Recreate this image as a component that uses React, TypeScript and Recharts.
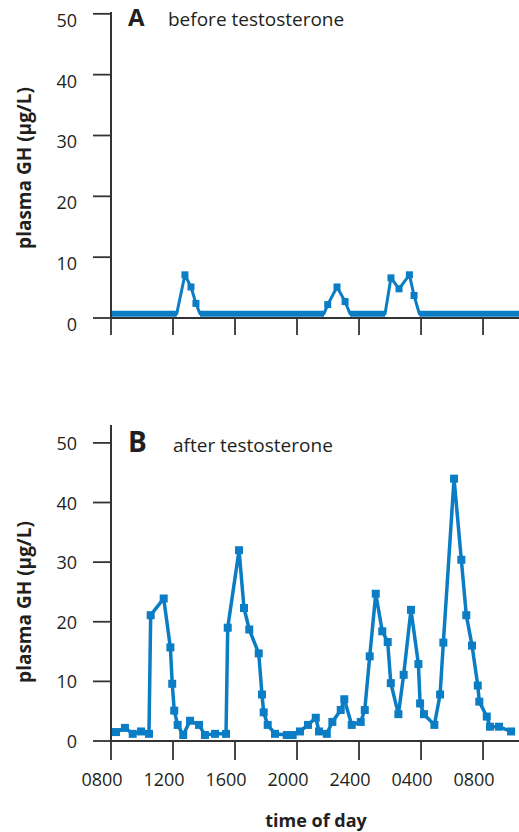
import { LineChart, Line, XAxis, YAxis, Label } from "recharts";

const HOURS_A = [8, 12.24, 12.77, 13.16, 13.48, 13.74, 21.74, 21.98, 22.58, 23.1, 23.42, 25.68, 26.06, 26.58, 27.25, 27.55, 27.89, 34.32];
const GH_A = [0.7, 0.7, 7.1, 5.1, 2.4, 0.7, 0.7, 2.2, 5.1, 2.7, 0.7, 0.7, 6.6, 4.8, 7.1, 3.7, 0.7, 0.7];
// baseline stretches (drawn as a thicker band), null inside the pulses
const BASE_A = [0.7, 0.7, null, null, null, 0.7, 0.7, null, null, null, 0.7, 0.7, null, null, null, null, 0.7, 0.7];

const HOURS_B = [8.32, 8.9, 9.4, 9.94, 10.45, 10.56, 11.4, 11.83, 11.95, 12.08, 12.3, 12.66, 13.1, 13.68, 14.06, 14.71, 15.42, 15.53, 16.26, 16.58, 16.92, 17.53, 17.74, 17.85, 18.11, 18.58, 19.34, 19.72, 20.19, 20.71, 21.21, 21.42, 21.92, 22.28, 22.82, 23.05, 23.53, 24.11, 24.37, 24.69, 25.08, 25.5, 25.85, 26.05, 26.54, 26.88, 27.35, 27.83, 27.94, 28.19, 28.86, 29.23, 29.44, 30.13, 30.6, 30.92, 31.29, 31.66, 31.76, 32.24, 32.45, 33.03, 33.81];
const GH_B = [1.5, 2.2, 1.2, 1.6, 1.2, 21.1, 23.9, 15.7, 9.6, 5.1, 2.7, 1.0, 3.4, 2.7, 1.0, 1.2, 1.2, 19.0, 32.0, 22.3, 18.7, 14.7, 7.8, 4.8, 2.7, 1.2, 1.0, 1.0, 1.6, 2.7, 3.9, 1.6, 1.2, 3.2, 5.2, 7.0, 2.7, 3.2, 5.2, 14.2, 24.7, 18.4, 16.6, 9.7, 4.5, 11.1, 22.0, 12.9, 6.3, 4.5, 2.7, 7.8, 16.5, 44.0, 30.4, 21.1, 16.0, 9.3, 6.6, 4.1, 2.4, 2.4, 1.6];

const Y_TICKS = [0, 10, 20, 30, 40, 50];
const X_TICKS = [8, 12, 16, 20, 24, 28, 32];
const X_LABELS = ["0800", "1200", "1600", "2000", "2400", "0400", "0800"];

const dataA = HOURS_A.map((t, i) => ({ t, gh: GH_A[i], base: BASE_A[i] }));
const dataB = HOURS_B.map((t, i) => ({ t, gh: GH_B[i] }));

const BLUE = "#0a7dc4";
const AXIS = "#333333";
const TEXT = "#231f20";
const FONT = "'Open Sans', sans-serif";
const X_DOMAIN = [8, 34.32];

const square = (size: number, onlyPulse: boolean) => (props: any) => {
  const { cx, cy, index, payload } = props;
  if (onlyPulse && payload.base != null) return <g key={"d" + index} />;
  return <rect key={"d" + index} x={cx - size / 2} y={cy - size / 2} width={size} height={size} fill={BLUE} />;
};

const yTick = (dy: number) => (props: any) => {
  const { x, y, payload } = props;
  return (
    <text x={x} y={y + dy} textAnchor="end" dominantBaseline="central" fontFamily={FONT} fontSize={18} fill={TEXT}>
      {payload.value}
    </text>
  );
};

const xTick = (props: any) => {
  const { x, y, payload } = props;
  const i = X_TICKS.indexOf(payload.value);
  return (
    <text x={x - 9} y={y + 26} textAnchor="middle" fontFamily={FONT} fontSize={18} fill={TEXT}>
      {X_LABELS[i]}
    </text>
  );
};

const yLabel = (cy: number) => () => (
  <text x={24} y={cy} transform={`rotate(-90, 24, ${cy})`} textAnchor="middle" dominantBaseline="central" fontFamily={FONT} fontWeight={700} fontSize={19} fill={TEXT}>
    plasma GH (μg/L)
  </text>
);

const Title = ({ top, baseline, letter, letterSize, text, textX }: any) => (
  <svg width={519} height={50} style={{ position: "absolute", left: 0, top, pointerEvents: "none" }}>
    <text x={128} y={baseline} fontFamily={FONT} fontWeight={700} fontSize={letterSize} fill={TEXT}>{letter}</text>
    <text x={textX} y={baseline} fontFamily={FONT} fontSize={19} fill={TEXT}>{text}</text>
  </svg>
);

export default function App() {
  return (
    <div style={{ position: "absolute", left: 0, top: 0, width: 519, height: 832, background: "#fff" }}>
      <div style={{ position: "absolute", left: 0, top: 0 }}>
        <LineChart width={519} height={345} data={dataA} margin={{ top: 12, right: 0, bottom: 0, left: 0 }}>
          <XAxis dataKey="t" type="number" domain={X_DOMAIN} ticks={X_TICKS} height={27} tickSize={17} tickMargin={0}
            tick={() => <g />} axisLine={{ stroke: AXIS, strokeWidth: 2 }} tickLine={{ stroke: AXIS, strokeWidth: 1.8 }} />
          <YAxis domain={[0, 50.3]} ticks={Y_TICKS} width={111} tickSize={18} tickMargin={16} tick={yTick(6)}
            axisLine={{ stroke: AXIS, strokeWidth: 2 }} tickLine={{ stroke: AXIS, strokeWidth: 1.8 }}>
            <Label content={yLabel(168)} />
          </YAxis>
          <Line dataKey="gh" stroke={BLUE} strokeWidth={3} strokeLinejoin="round" dot={square(7, true)} activeDot={false} isAnimationActive={false} />
          <Line dataKey="base" stroke={BLUE} strokeWidth={6} dot={false} activeDot={false} connectNulls={false} isAnimationActive={false} />
        </LineChart>
      </div>
      <Title top={0} baseline={26} letter="A" letterSize={24} text="before testosterone" textX={168} />

      <div style={{ position: "absolute", left: 0, top: 400 }}>
        <LineChart width={519} height={432} data={dataB} margin={{ top: 25, right: 0, bottom: 0, left: 0 }}>
          <XAxis dataKey="t" type="number" domain={X_DOMAIN} ticks={X_TICKS} height={91} tickSize={19} tickMargin={0}
            tick={xTick} axisLine={{ stroke: AXIS, strokeWidth: 2 }} tickLine={{ stroke: AXIS, strokeWidth: 1.8 }}>
            <Label content={() => (
              <text x={316} y={427} textAnchor="middle" fontFamily={FONT} fontWeight={700} fontSize={18} fill={TEXT}>time of day</text>
            )} />
          </XAxis>
          <YAxis domain={[0, 53]} ticks={Y_TICKS} width={111} tickSize={18} tickMargin={16} tick={yTick(0)}
            axisLine={{ stroke: AXIS, strokeWidth: 2 }} tickLine={{ stroke: AXIS, strokeWidth: 1.8 }}>
            <Label content={yLabel(202)} />
          </YAxis>
          <Line dataKey="gh" stroke={BLUE} strokeWidth={3.5} strokeLinejoin="round" dot={square(8, false)} activeDot={false} isAnimationActive={false} />
        </LineChart>
      </div>
      <Title top={422} baseline={30} letter="B" letterSize={28} text="after testosterone" textX={173} />
    </div>
  );
}
